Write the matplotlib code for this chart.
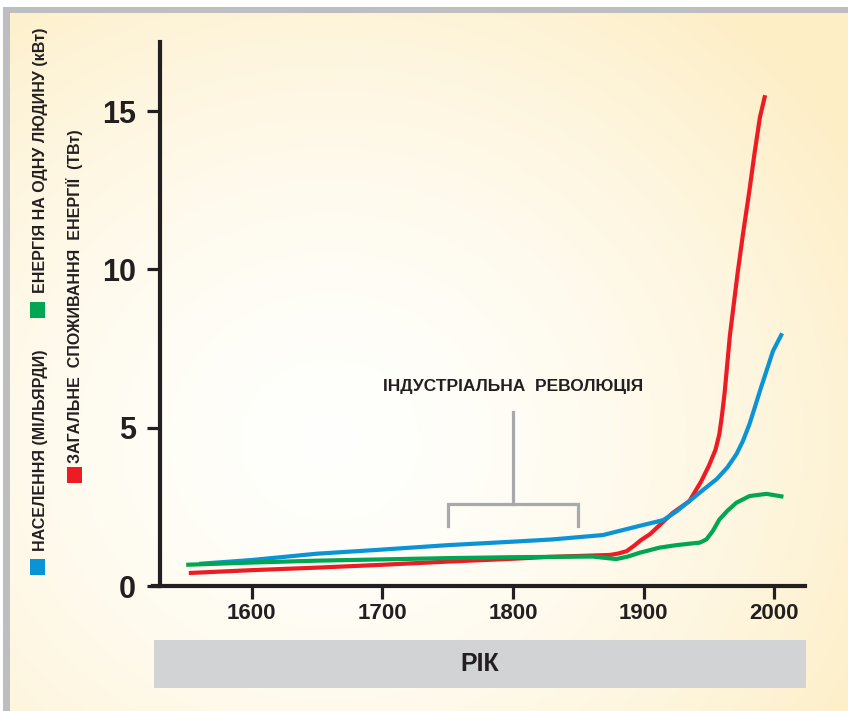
from matplotlib import pyplot as plt
from matplotlib.patches import Rectangle
import numpy as np

plt.rcParams['font.family'] = ['Liberation Sans', 'DejaVu Sans']
plt.rcParams['font.weight'] = 'bold'

# data
pop_years = [1560, 1600, 1650, 1700, 1750, 1800, 1830, 1869, 1897, 1915, 1925,
             1935, 1946, 1956, 1964, 1971, 1976, 1981, 1985, 1989, 1994, 1999, 2006]
pop_values = [0.70, 0.82, 1.02, 1.15, 1.29, 1.40, 1.47, 1.61, 1.90, 2.08, 2.35,
              2.68, 3.05, 3.38, 3.74, 4.16, 4.58, 5.11, 5.63, 6.16, 6.79, 7.42, 7.98]

total_years = [1552, 1600, 1650, 1700, 1750, 1800, 1828, 1874, 1880, 1887, 1893,
               1898, 1905, 1922, 1935, 1944, 1950, 1955, 1958, 1960, 1962, 1964,
               1966, 1969, 1972, 1976, 1981, 1985, 1989, 1993]
total_values = [0.41, 0.50, 0.58, 0.67, 0.77, 0.86, 0.92, 0.98, 1.02, 1.10, 1.28,
                1.45, 1.64, 2.30, 2.68, 3.30, 3.80, 4.30, 4.80, 5.40, 6.10, 7.00,
                7.90, 8.90, 9.90, 11.1, 12.5, 13.7, 14.8, 15.5]

percap_years = [1550, 1600, 1650, 1700, 1750, 1800, 1861, 1870, 1879, 1888, 1897,
                1912, 1925, 1936, 1943, 1948, 1953, 1958, 1964, 1971, 1981, 1994, 2007]
percap_values = [0.67, 0.74, 0.80, 0.84, 0.88, 0.91, 0.93, 0.89, 0.85, 0.93, 1.05,
                 1.21, 1.29, 1.34, 1.37, 1.47, 1.74, 2.10, 2.37, 2.63, 2.84, 2.91, 2.82]

xticks = [1600, 1700, 1800, 1900, 2000]
yticks = [0, 5, 10, 15]
revolution = (1750, 1850)

BLUE = '#0a94d6'
RED = '#ed1c24'
GREEN = '#00a651'
DARK = '#231f20'

fig = plt.figure(figsize=(8.48, 7.11), dpi=100)

# background in pixel coordinates
bg = fig.add_axes([0, 0, 1, 1])
bg.set_xlim(0, 848)
bg.set_ylim(711, 0)
bg.axis('off')
gx, gy = np.meshgrid(np.arange(848), np.arange(711))
r = np.sqrt(((gx - 330) / 620.0) ** 2 + ((gy - 440) / 560.0) ** 2)
t = np.clip(r, 0, 1) ** 1.6
white = np.array([1.0, 1.0, 0.99])
cream = np.array([253, 238, 198]) / 255.0
img = white[None, None, :] * (1 - t[..., None]) + cream[None, None, :] * t[..., None]
img[:7, :, :] = 1.0
img[:, :3, :] = 1.0
bg.imshow(img, extent=[0, 848, 711, 0], aspect='auto', zorder=0)
bg.add_patch(Rectangle((3, 7), 845, 6, color='#bcbec0', lw=0, zorder=1))
bg.add_patch(Rectangle((3, 7), 7, 704, color='#bcbec0', lw=0, zorder=1))

# year band
bg.add_patch(Rectangle((154, 640), 652, 48, color='#d1d3d4', lw=0, zorder=1))
bg.text(480, 664, 'РІК', fontsize=18, color=DARK, ha='center', va='center')

# legend on the left
bg.add_patch(Rectangle((30, 559), 15, 16, color=BLUE, lw=0))
bg.add_patch(Rectangle((30, 302), 15, 16, color=GREEN, lw=0))
bg.add_patch(Rectangle((67, 467), 15, 16, color=RED, lw=0))
bg.text(41, 551, 'НАСЕЛЕННЯ (МІЛЬЯРДИ)', rotation=90, fontsize=11.5,
        color=DARK, ha='center', va='bottom')
bg.text(41, 293, 'ЕНЕРГІЯ НА ОДНУ ЛЮДИНУ (кВт)', rotation=90, fontsize=11.5,
        color=DARK, ha='center', va='bottom')
bg.text(75, 463, 'ЗАГАЛЬНЕ  СПОЖИВАННЯ  ЕНЕРГІЇ  (ТВт)', rotation=90, fontsize=11.5,
        color=DARK, ha='center', va='bottom')

# main chart
ax = fig.add_axes([153 / 848, (711 - 586) / 711, (805 - 153) / 848, (586 - 42) / 711])
ax.patch.set_alpha(0)
ax.set_xlim(1524.6, 2023.5)
ax.set_ylim(0, 17.18)

ax.plot(total_years, total_values, color=RED, lw=3, zorder=2, solid_capstyle='butt')
ax.plot(pop_years, pop_values, color=BLUE, lw=3, zorder=3, solid_capstyle='butt')
ax.plot(percap_years, percap_values, color=GREEN, lw=3, zorder=4, solid_capstyle='butt')

# industrial revolution bracket
mid = sum(revolution) / 2
ax.plot([revolution[0], revolution[0], revolution[1], revolution[1]],
        [1.89, 2.59, 2.59, 1.89], color='#a7a9ac', lw=2.3, solid_joinstyle='miter')
ax.plot([mid, mid], [2.59, 5.49], color='#a7a9ac', lw=2.3)
ax.text(mid, 6.3, 'ІНДУСТРІАЛЬНА  РЕВОЛЮЦІЯ', fontsize=12.5, color=DARK,
        ha='center', va='center')

for side in ['top', 'right']:
    ax.spines[side].set_visible(False)
for side in ['left', 'bottom']:
    ax.spines[side].set_linewidth(3)
    ax.spines[side].set_color(DARK)
ax.spines['left'].set_position(('data', 1530))

ax.set_xticks(xticks)
ax.set_yticks(yticks)
ax.tick_params(axis='x', length=9.5, width=2.3, color=DARK, pad=2.5,
               labelsize=16, labelcolor=DARK)
ax.tick_params(axis='y', length=9.5, width=2.3, color=DARK, pad=8,
               labelsize=22, labelcolor=DARK)

plt.savefig('out.png', dpi=100)
